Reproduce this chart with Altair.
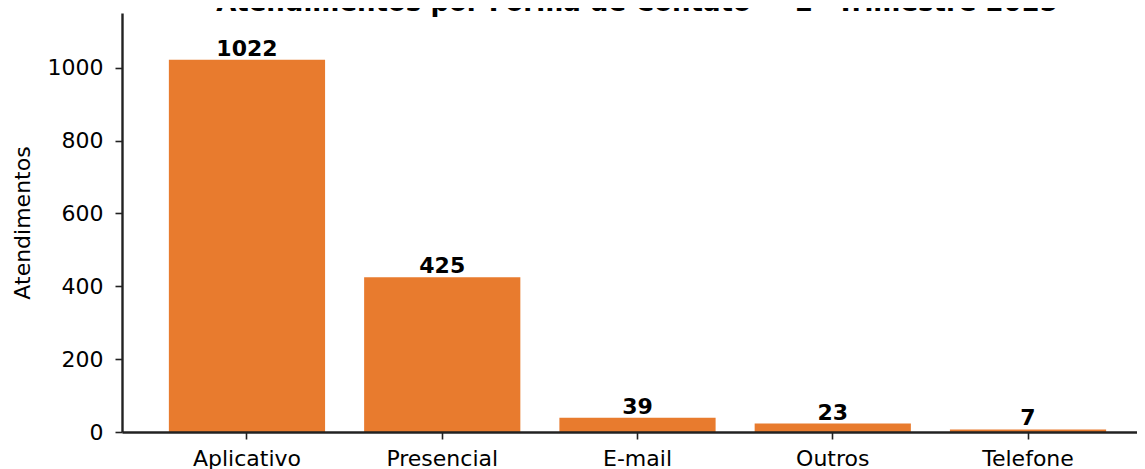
import altair as alt
import pandas as pd

categories = ["Aplicativo", "Presencial", "E-mail", "Outros", "Telefone"]
values = [1022, 425, 39, 23, 7]
y_ticks = [0, 200, 400, 600, 800, 1000]
title_text = "Atendimentos por Forma de Contato — 2º Trimestre 2025"

df = pd.DataFrame({"categoria": categories, "atendimentos": values})
df_title = pd.DataFrame({"titulo": [title_text]})

FONT = "DejaVu Sans"
BAR = "#E87B2E"
AXC = "#222222"

x = alt.X(
    "categoria:N",
    sort=categories,
    scale=alt.Scale(range=[0, 1031], paddingInner=0.2, paddingOuter=0.24),
    axis=alt.Axis(
        title=None,
        labelAngle=0,
        labelFontSize=22,
        labelFont=FONT,
        labelColor="#000000",
        labelPadding=9,
        tickSize=7,
        tickWidth=1.6,
        tickColor=AXC,
        domainColor=AXC,
        domainWidth=2.4,
        grid=False,
        zindex=1,
    ),
)

y = alt.Y(
    "atendimentos:Q",
    scale=alt.Scale(domain=[0, 1150], nice=False),
    axis=alt.Axis(
        title="Atendimentos",
        titleFont=FONT,
        titleFontSize=22,
        titleFontWeight="normal",
        titleColor="#000000",
        titleAngle=-90,
        titleX=-100,
        titleY=209.5,
        titleAlign="center",
        titleBaseline="middle",
        values=y_ticks,
        format="d",
        labelFontSize=22,
        labelFont=FONT,
        labelColor="#000000",
        labelPadding=12,
        tickSize=7,
        tickWidth=1.6,
        tickColor=AXC,
        domainColor=AXC,
        domainWidth=2.4,
        grid=False,
        zindex=1,
    ),
)

base = alt.Chart(df)

bars = base.mark_bar(color=BAR).encode(x=x, y=y)

labels = base.mark_text(
    font=FONT,
    fontSize=22,
    fontWeight="bold",
    color="#000000",
    baseline="alphabetic",
    dy=-4,
).encode(x=x, y=y, text="atendimentos:Q")

title = alt.Chart(df_title).mark_text(
    font=FONT,
    fontSize=26,
    fontWeight="bold",
    color="#000000",
    baseline="alphabetic",
    align="center",
).encode(x=alt.value(515), y=alt.value(-2), text="titulo:N")

chart = (
    alt.layer(bars, labels, title)
    .properties(
        width=1015,
        height=419,
        autosize=alt.AutoSizeParams(type="none"),
        padding={"left": 114, "top": 5, "right": 0, "bottom": 37},
    )
    .configure_view(stroke=None)
)

chart.save("out.html", embed_options={"renderer": "svg", "actions": False})
